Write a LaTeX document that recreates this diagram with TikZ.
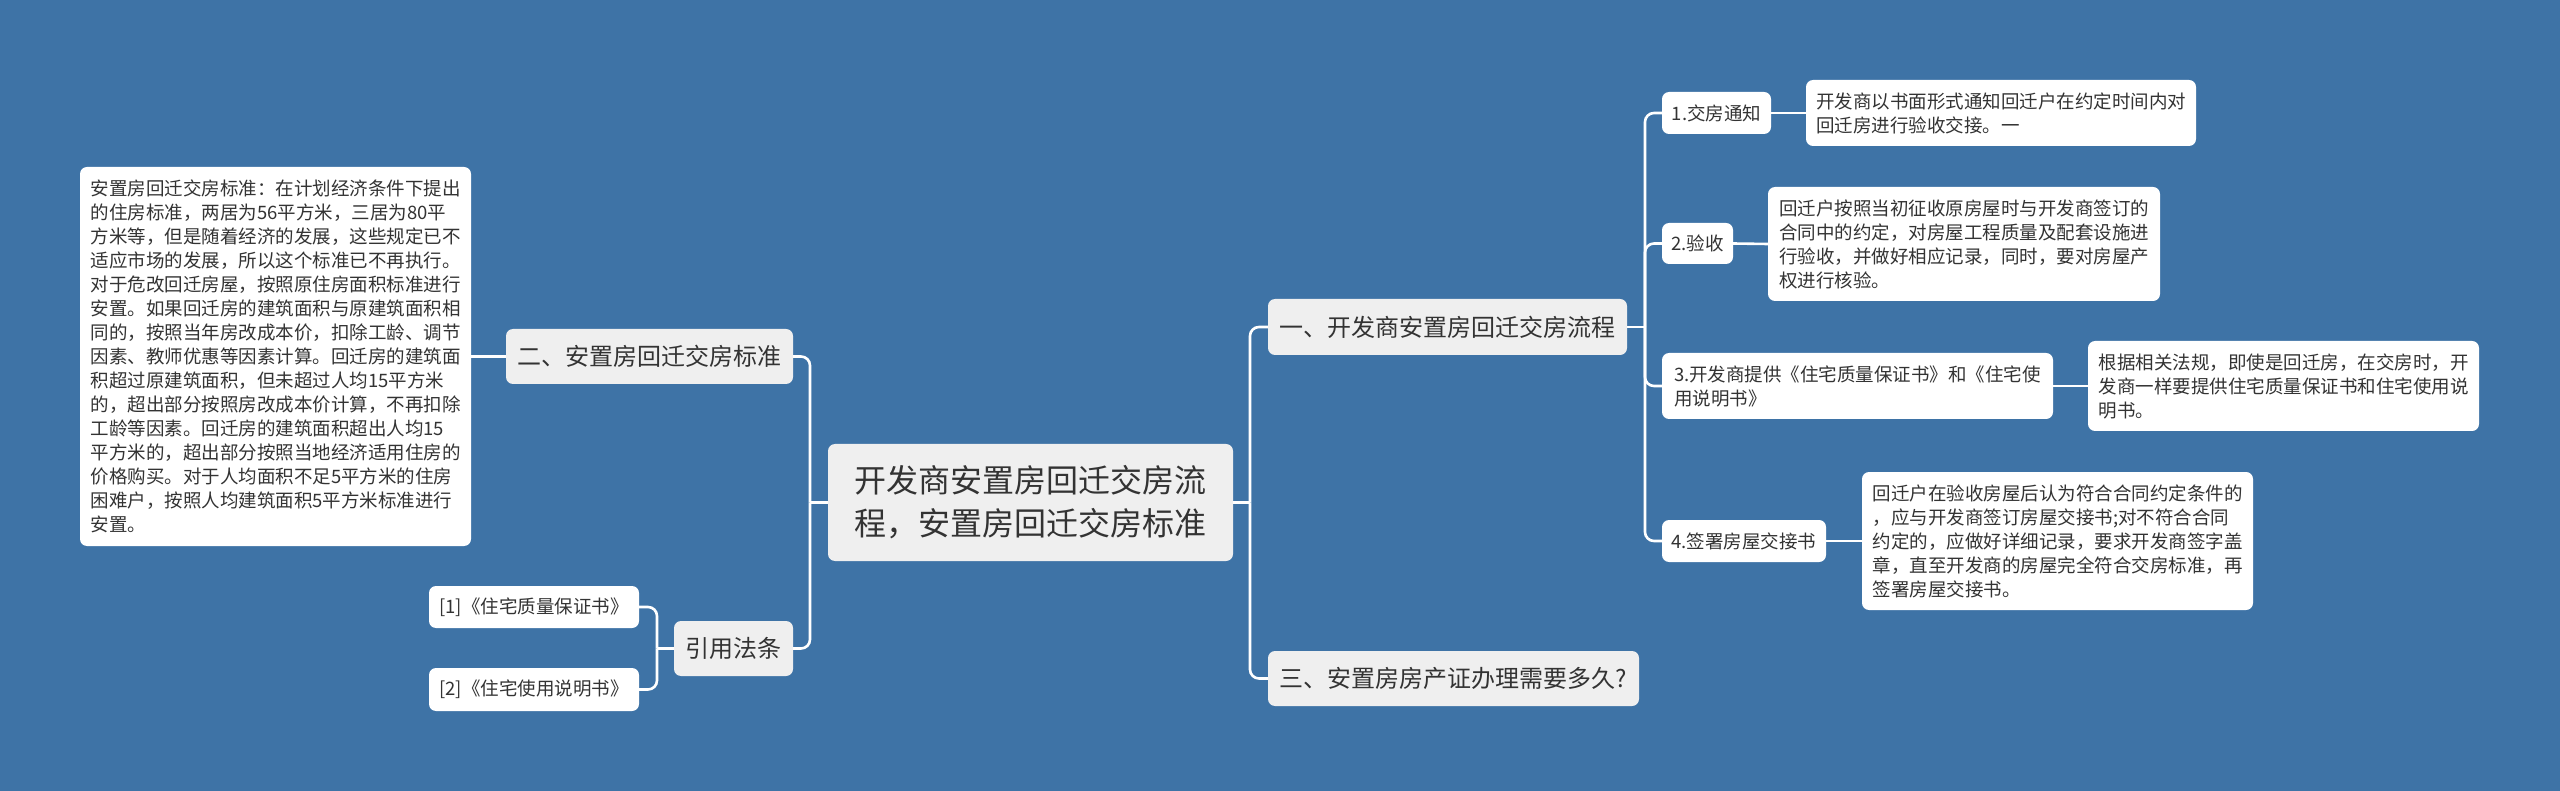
\documentclass[tikz,border=0pt]{standalone}
\usepackage{fontspec}
\setmainfont{Noto Sans CJK SC}
\definecolor{bgblue}{RGB}{62,115,166}
\definecolor{topicgray}{RGB}{239,239,239}
\definecolor{inkgray}{RGB}{51,51,51}

\begin{document}
\begin{tikzpicture}[
    x=1pt, y=-1pt,
    mapbox/.style={rectangle, rounded corners=7pt, text=inkgray, inner sep=0pt, align=left},
    rootbox/.style={mapbox, fill=topicgray, font=\fontsize{32}{43}\selectfont},
    topic/.style={mapbox, fill=topicgray, font=\fontsize{24}{30}\selectfont},
    leaf/.style={mapbox, fill=white, font=\fontsize{18.5}{24}\selectfont},
    link/.style={draw=white, line width=2.6pt, rounded corners=9pt}
]

% === BACKGROUND ===
\fill[bgblue] (0,0) rectangle (2560,791);
\useasboundingbox (0,0) rectangle (2560,791);

% === CENTRE ===
\node[rootbox, minimum width=405pt, minimum height=117pt] (root) at (1030.5, 502.5)
    {开发商安置房回迁交房流\\程，安置房回迁交房标准};

% === LEFT SIDE ===
\node[topic, minimum width=287pt, minimum height=55pt] (std) at (649.5, 356.5) {二、安置房回迁交房标准};
\node[leaf, minimum width=391pt, minimum height=379pt] (stdtext) at (275.5, 356.5)
    {安置房回迁交房标准：在计划经济条件下提出\\
     的住房标准，两居为56平方米，三居为80平\\
     方米等，但是随着经济的发展，这些规定已不\\
     适应市场的发展，所以这个标准已不再执行。\\
     对于危改回迁房屋，按照原住房面积标准进行\\
     安置。如果回迁房的建筑面积与原建筑面积相\\
     同的，按照当年房改成本价，扣除工龄、调节\\
     因素、教师优惠等因素计算。回迁房的建筑面\\
     积超过原建筑面积，但未超过人均15平方米\\
     的，超出部分按照房改成本价计算，不再扣除\\
     工龄等因素。回迁房的建筑面积超出人均15\\
     平方米的，超出部分按照当地经济适用住房的\\
     价格购买。对于人均面积不足5平方米的住房\\
     困难户，按照人均建筑面积5平方米标准进行\\
     安置。};

\node[topic, minimum width=119pt, minimum height=55pt] (laws) at (733.5, 648.5) {引用法条};
\node[leaf, minimum width=210pt, minimum height=42pt] (law1) at (534, 607) {[1]《住宅质量保证书》};
\node[leaf, minimum width=210pt, minimum height=43pt] (law2) at (534, 689.5) {[2]《住宅使用说明书》};

% === RIGHT SIDE ===
\node[topic, minimum width=359pt, minimum height=56pt] (flow) at (1447.5, 327) {一、开发商安置房回迁交房流程};
\node[topic, minimum width=371pt, minimum height=55pt] (cert) at (1453.5, 678.5) {三、安置房房产证办理需要多久?};

% steps of the process
\node[leaf, minimum width=109pt, minimum height=42pt] (step1) at (1716.5, 113) {1.交房通知};
\node[leaf, minimum width=71pt, minimum height=41pt] (step2) at (1697.5, 243.5) {2.验收};
\node[leaf, minimum width=391pt, minimum height=66pt] (step3) at (1857.5, 386)
    {3.开发商提供《住宅质量保证书》和《住宅使\\用说明书》};
\node[leaf, minimum width=164pt, minimum height=42pt] (step4) at (1744, 541) {4.签署房屋交接书};

% what each step means
\node[leaf, minimum width=390pt, minimum height=66pt] (note1) at (2001, 113)
    {开发商以书面形式通知回迁户在约定时间内对\\回迁房进行验收交接。一};
\node[leaf, minimum width=392pt, minimum height=114pt] (note2) at (1964, 244)
    {回迁户按照当初征收原房屋时与开发商签订的\\
     合同中的约定，对房屋工程质量及配套设施进\\
     行验收，并做好相应记录，同时，要对房屋产\\
     权进行核验。};
\node[leaf, minimum width=391pt, minimum height=90pt] (note3) at (2283.5, 386)
    {根据相关法规，即使是回迁房，在交房时，开\\
     发商一样要提供住宅质量保证书和住宅使用说\\
     明书。};
\node[leaf, minimum width=391pt, minimum height=138pt] (note4) at (2057.5, 541)
    {回迁户在验收房屋后认为符合合同约定条件的\\
     ，应与开发商签订房屋交接书;对不符合合同\\
     约定的，应做好详细记录，要求开发商签字盖\\
     章，直至开发商的房屋完全符合交房标准，再\\
     签署房屋交接书。};

% === CONNECTORS ===
\coordinate (rjoin) at (1250, 502.5);
\coordinate (ljoin) at (810, 502.5);
\coordinate (lawjoin) at (657, 648.5);
\coordinate (stepjoin) at (1645, 327);

\draw[link] (root.east) -- (rjoin);
\draw[link] (rjoin) |- (flow.west);
\draw[link] (rjoin) |- (cert.west);

\draw[link] (root.west) -- (ljoin);
\draw[link] (ljoin) |- (std.east);
\draw[link] (ljoin) |- (laws.east);
\draw[link] (stdtext.east) -- (std.west);

\draw[link] (laws.west) -- (lawjoin);
\draw[link] (lawjoin) |- (law1.east);
\draw[link] (lawjoin) |- (law2.east);

\draw[link] (flow.east) -- (stepjoin);
\foreach \s in {1,2,3,4} {
    \draw[link] (stepjoin) |- (step\s.west);
    \draw[link] (step\s.east) -- (note\s.west);
}

\end{tikzpicture}
\end{document}
